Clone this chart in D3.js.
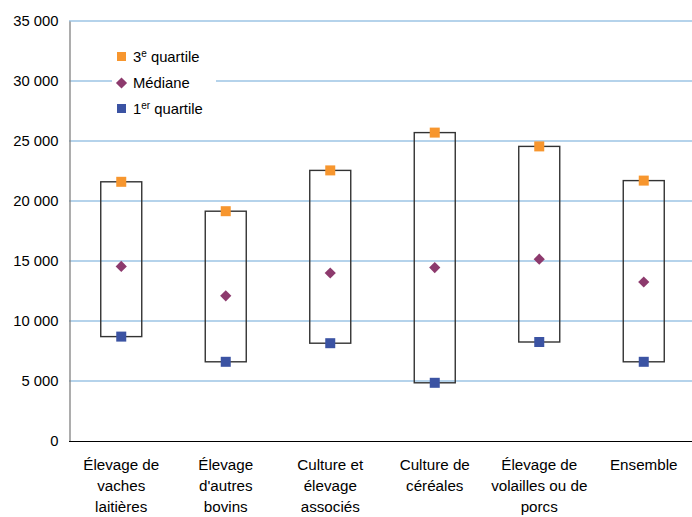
<!DOCTYPE html>
<html>
<head>
<meta charset="utf-8">
<script src="https://cdn.jsdelivr.net/npm/d3@7"></script>
<style>
  body { margin: 0; background: #fff; }
  text { font-family: "Liberation Sans", Arial, sans-serif; fill: #000; }
</style>
</head>
<body>
<script>
// categories (multi-line labels) and the three series
var categories = [
  ["Élevage de", "vaches", "laitières"],
  ["Élevage", "d'autres", "bovins"],
  ["Culture et", "élevage", "associés"],
  ["Culture de", "céréales"],
  ["Élevage de", "volailles ou de", "porcs"],
  ["Ensemble"]
];
var q3 = [21600, 19150, 22550, 25700, 24550, 21700];
var median = [14550, 12100, 14000, 14450, 15150, 13250];
var q1 = [8700, 6600, 8150, 4850, 8250, 6600];
var yTicks = [0, 5000, 10000, 15000, 20000, 25000, 30000, 35000];

var W = 692, H = 517;
var mLeft = 69, mRight = 696, mTop = 21, mBottom = 441;
var fs = "14.8px";

var svg = d3.select("body").append("svg")
    .attr("width", W)
    .attr("height", H);

var x = d3.scaleBand().domain(d3.range(categories.length)).range([mLeft, mRight]);
var y = d3.scaleLinear().domain([0, 35000]).range([mBottom, mTop]);

var fmt = function(d) { return d3.format(",")(d).replace(/,/g, " "); };

// gridlines
svg.append("g").selectAll("line")
    .data(yTicks.filter(function(d) { return d > 0; }))
  .enter().append("line")
    .attr("x1", mLeft).attr("x2", 692)
    .attr("y1", function(d) { return y(d); })
    .attr("y2", function(d) { return y(d); })
    .attr("stroke", "#9CC4E4").attr("stroke-width", 1.3);

// y axis
var yAxis = svg.append("g")
    .attr("transform", "translate(" + (mLeft + 0.5) + ",0)")
    .call(d3.axisLeft(y).tickValues(yTicks).tickFormat(fmt).tickSize(0).tickPadding(11));
yAxis.select(".domain").attr("stroke", "#808080").attr("stroke-width", 1.3);
yAxis.selectAll("text").style("font-size", fs).attr("fill", "#000");

// x axis line
svg.append("line")
    .attr("x1", mLeft).attr("x2", 692)
    .attr("y1", mBottom + 0.5).attr("y2", mBottom + 0.5)
    .attr("stroke", "#000").attr("stroke-width", 1.2);

function cx(i) { return x(i) + x.bandwidth() / 2; }

// boxes
var bw = 41;
svg.append("g").selectAll("rect")
    .data(d3.range(categories.length))
  .enter().append("rect")
    .attr("x", function(i) { return cx(i) - bw / 2; })
    .attr("y", function(i) { return y(q3[i]); })
    .attr("width", bw)
    .attr("height", function(i) { return y(q1[i]) - y(q3[i]); })
    .attr("fill", "none")
    .attr("stroke", "#333").attr("stroke-width", 1.4);

var sq = 10;
svg.append("g").selectAll("rect")
    .data(q3)
  .enter().append("rect")
    .attr("x", function(d, i) { return cx(i) - sq / 2; })
    .attr("y", function(d) { return y(d) - sq / 2; })
    .attr("width", sq).attr("height", sq)
    .attr("fill", "#F7962E");

svg.append("g").selectAll("rect")
    .data(q1)
  .enter().append("rect")
    .attr("x", function(d, i) { return cx(i) - sq / 2; })
    .attr("y", function(d) { return y(d) - sq / 2; })
    .attr("width", sq).attr("height", sq)
    .attr("fill", "#3B53A3");

var diamond = d3.symbol().type(d3.symbolDiamond2).size(80);
svg.append("g").selectAll("path")
    .data(median)
  .enter().append("path")
    .attr("d", diamond)
    .attr("transform", function(d, i) { return "translate(" + cx(i) + "," + y(d) + ")"; })
    .attr("fill", "#8D3A6D");

// x labels
var xl = svg.append("g").selectAll("text")
    .data(categories)
  .enter().append("text")
    .attr("text-anchor", "middle")
    .attr("x", function(d, i) { return cx(i); })
    .style("font-size", "15.2px");
xl.selectAll("tspan")
    .data(function(d) { return d; })
  .enter().append("tspan")
    .attr("x", function() { return d3.select(this.parentNode).attr("x"); })
    .attr("y", function(d, j) { return 470 + j * 20.8; })
    .text(function(d) { return d; });

// legend
var lg = svg.append("g");
lg.append("rect").attr("x", 112).attr("y", 44).attr("width", 104).attr("height", 76).attr("fill", "#fff");
lg.append("rect").attr("x", 117).attr("y", 52).attr("width", 9).attr("height", 9).attr("fill", "#F7962E");
lg.append("path").attr("d", diamond).attr("transform", "translate(121.5,83)").attr("fill", "#8D3A6D");
lg.append("rect").attr("x", 117).attr("y", 104).attr("width", 9).attr("height", 9).attr("fill", "#3B53A3");

var t1 = lg.append("text").attr("x", 133).attr("y", 62).style("font-size", fs);
t1.append("tspan").text("3");
t1.append("tspan").attr("dy", -5).style("font-size", "10px").text("e");
t1.append("tspan").attr("dy", 5).text(" quartile");

lg.append("text").attr("x", 133).attr("y", 88).style("font-size", fs).text("Médiane");

var t3 = lg.append("text").attr("x", 133).attr("y", 114).style("font-size", fs);
t3.append("tspan").text("1");
t3.append("tspan").attr("dy", -5).style("font-size", "10px").text("er");
t3.append("tspan").attr("dy", 5).text(" quartile");
</script>
</body>
</html>
